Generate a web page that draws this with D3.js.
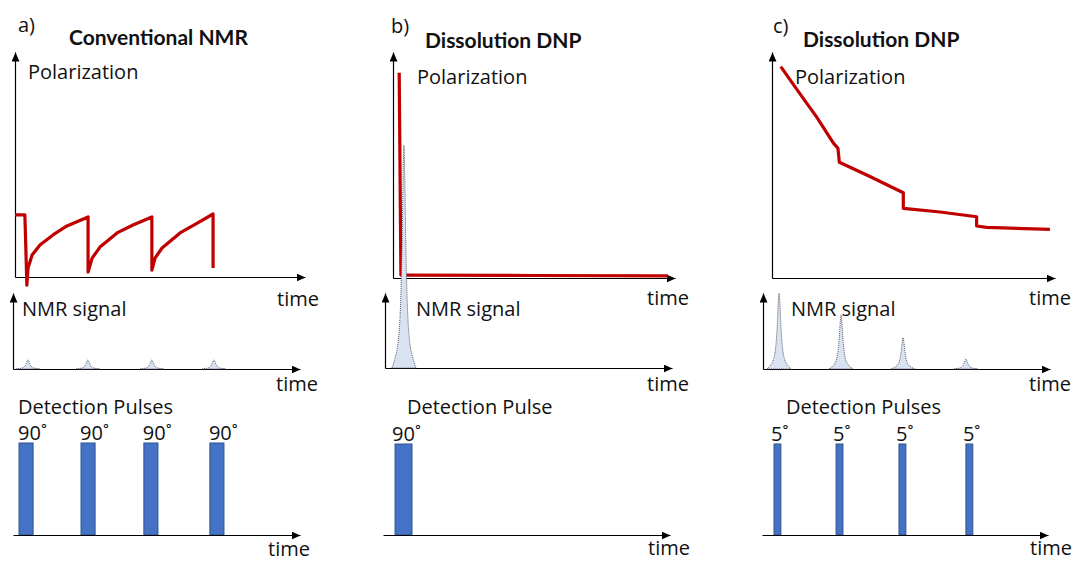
<!DOCTYPE html>
<html>
<head>
<meta charset="utf-8">
<script src="https://cdn.jsdelivr.net/npm/d3@7"></script>
<style>
body { margin: 0; background: #fff; }
svg text { font-family: "Open Sans", sans-serif; font-size: 20px; fill: #111; }
svg text.title { font-family: Lato, sans-serif; font-weight: bold; font-size: 21px; }
</style>
</head>
<body>
<svg id="chart"></svg>
<script>
var width = 1073,
    height = 562;

// time runs 0-10 along every axis, polarization / signal 0-1 of the axis height
// a) conventional NMR: polarization drops to ~0 at each 90 degree pulse and recovers
var polA = [[0, 0.276], [0.34, 0.276], [0.41, -0.036], [0.45, 0.04], [0.59, 0.098], [0.86, 0.142],
            [1.31, 0.187], [1.79, 0.227], [2.52, 0.267],
            [2.52, 0.022], [2.66, 0.084], [2.93, 0.133], [3.52, 0.196], [4.07, 0.231], [4.72, 0.267],
            [4.72, 0.031], [4.83, 0.084], [5.07, 0.129], [5.69, 0.196], [6.24, 0.236], [6.83, 0.28],
            [6.83, 0.04]];
// b) dissolution DNP, one 90 degree pulse
var polB = [[0.22, 0.908], [0.28, 0.013], [0.5, 0.013], [5, 0.011], [9.75, 0.009]];
// c) dissolution DNP, small 5 degree pulses
var polC = [[0.31, 0.935], [0.99, 0.815], [1.58, 0.712], [2.17, 0.597], [2.33, 0.574],
            [2.38, 0.512], [3.46, 0.449], [4.64, 0.377],
            [4.64, 0.308], [5.94, 0.292], [7.23, 0.271],
            [7.23, 0.23], [7.59, 0.224], [9.82, 0.215]];

var peakTimesA = [0.52, 2.61, 4.84, 7.0];
var peakHeightsA = [0.12, 0.12, 0.12, 0.12];
var peakTimesB = [0.66];
var peakHeightsB = [2.97];
var peakTimesC = [0.56, 2.72, 4.88, 7.07];
var peakHeightsC = [1.0, 0.71, 0.41, 0.13];

// shape of one NMR line: time offset from centre vs fraction of peak height
var peakDx  = [-0.42, -0.3, -0.2, -0.14, -0.1, -0.07, -0.05, -0.03, -0.015, 0, 0.015, 0.03, 0.05, 0.07, 0.1, 0.14, 0.2, 0.3, 0.42];
var peakRel = [0, 0.05, 0.12, 0.22, 0.36, 0.53, 0.69, 0.86, 0.96, 1, 0.96, 0.86, 0.69, 0.53, 0.36, 0.22, 0.12, 0.05, 0];

var pulseTimesA = [0.21, 2.37, 4.56, 6.86];
var pulseTimesB = [0.42];
var pulseTimesC = [0.42, 2.59, 4.79, 7.13];
var pulseLengths = [0.49, 0.59, 0.24];
var pulseAngles = ["90˚", "90˚", "5˚"];

var letters = ["a)", "b)", "c)"];
var titles = ["Conventional NMR", "Dissolution DNP", "Dissolution DNP"];
var pulseHeaders = ["Detection Pulses", "Detection Pulse", "Detection Pulses"];

var svg = d3.select("#chart")
    .attr("width", width)
    .attr("height", height);

svg.append("defs").append("marker")
    .attr("id", "arrow")
    .attr("markerUnits", "userSpaceOnUse")
    .attr("markerWidth", 10)
    .attr("markerHeight", 8)
    .attr("refX", 9)
    .attr("refY", 4)
    .attr("orient", "auto")
  .append("path")
    .attr("d", "M0,0L9,4L0,8Z")
    .attr("fill", "#000");

// where each panel sits on the page
var layout = [
    {letter: [18, 32], title: [69, 45],
     pol: {x: [15, 305], y: [277, 52], lab: [28, 79], time: [277, 306]},
     nmr: {x: [13, 300], y: [369, 293], lab: [22, 316], time: [276, 391]},
     pulse: {x: [13, 300], y: [535, 443], lab: [18, 414], time: [268, 556], off: -1}},
    {letter: [391, 33], title: [425, 48],
     pol: {x: [393, 675], y: [278, 52], lab: [417, 84], time: [647, 305]},
     nmr: {x: [385, 672], y: [368, 293], lab: [416, 316], time: [647, 391]},
     pulse: {x: [383, 670], y: [535, 444], lab: [407, 414], time: [648, 555], off: -3}},
    {letter: [773, 33], title: [803, 47],
     pol: {x: [772, 1055], y: [278, 52], lab: [795, 84], time: [1029, 305]},
     nmr: {x: [763, 1050], y: [369, 293], lab: [791, 316], time: [1029, 391]},
     pulse: {x: [762, 1048], y: [535, 444], lab: [786, 414], time: [1030, 555], off: -3}}
];

var polData = [polA, polB, polC];
var peakTimes = [peakTimesA, peakTimesB, peakTimesC];
var peakHeights = [peakHeightsA, peakHeightsB, peakHeightsC];
var pulseTimes = [pulseTimesA, pulseTimesB, pulseTimesC];

function arrowAxis(g, axis, tx, ty) {
    var a = g.append("g")
        .attr("transform", "translate(" + tx + "," + ty + ")")
        .call(axis);
    a.select(".domain")
        .attr("stroke", "#000")
        .attr("stroke-width", 1.2)
        .attr("marker-end", "url(#arrow)");
}

function label(g, txt, pos) {
    g.append("text").attr("x", pos[0]).attr("y", pos[1]).text(txt);
}

layout.forEach(function(L, i) {
    var g = svg.append("g");

    label(g, letters[i], L.letter);
    g.append("text")
        .attr("class", "title")
        .attr("x", L.title[0]).attr("y", L.title[1])
        .text(titles[i]);

    // polarization
    var x = d3.scaleLinear().domain([0, 10]).range(L.pol.x);
    var y = d3.scaleLinear().domain([0, 1]).range(L.pol.y);
    arrowAxis(g, d3.axisBottom(x).tickValues([]).tickSizeOuter(0), 0, L.pol.y[0]);
    arrowAxis(g, d3.axisLeft(y).tickValues([]).tickSizeOuter(0), L.pol.x[0], 0);
    label(g, "Polarization", L.pol.lab);
    label(g, "time", L.pol.time);

    g.append("path")
        .datum(polData[i])
        .attr("fill", "none")
        .attr("stroke", "#c00000")
        .attr("stroke-width", 3.2)
        .attr("stroke-linejoin", "round")
        .attr("d", d3.line()
            .x(function(d) { return x(d[0]); })
            .y(function(d) { return y(d[1]); }));

    // NMR signal
    var xn = d3.scaleLinear().domain([0, 10]).range(L.nmr.x);
    var yn = d3.scaleLinear().domain([0, 1]).range(L.nmr.y);
    arrowAxis(g, d3.axisBottom(xn).tickValues([]).tickSizeOuter(0), 0, L.nmr.y[0]);
    arrowAxis(g, d3.axisLeft(yn).tickValues([]).tickSizeOuter(0), L.nmr.x[0], 0);
    label(g, "NMR signal", L.nmr.lab);
    label(g, "time", L.nmr.time);

    peakTimes[i].forEach(function(t0, k) {
        var h = peakHeights[i][k];
        var pts = peakDx.map(function(dx, j) { return [t0 + dx, peakRel[j] * h]; });
        g.append("path")
            .datum(pts)
            .attr("fill", "#d9e2f1")
            .attr("stroke", "#4a4a5a")
            .attr("stroke-width", 0.9)
            .attr("stroke-dasharray", "1,1")
            .attr("d", d3.area()
                .curve(d3.curveMonotoneX)
                .x(function(d) { return xn(d[0]); })
                .y0(yn(0))
                .y1(function(d) { return yn(d[1]); }));
    });

    // detection pulses
    var xp = d3.scaleLinear().domain([0, 10]).range(L.pulse.x);
    var yp = d3.scaleLinear().domain([0, 1]).range(L.pulse.y);
    label(g, pulseHeaders[i], L.pulse.lab);
    label(g, "time", L.pulse.time);

    g.selectAll(".pulse")
        .data(pulseTimes[i])
        .enter().append("rect")
            .attr("class", "pulse")
            .attr("x", function(d) { return xp(d); })
            .attr("y", yp(1))
            .attr("width", function(d) { return xp(d + pulseLengths[i]) - xp(d); })
            .attr("height", yp(0) - yp(1))
            .attr("fill", "#4472c4")
            .attr("stroke", "#2f528f")
            .attr("stroke-width", 1);

    g.selectAll(".angle")
        .data(pulseTimes[i])
        .enter().append("text")
            .attr("class", "angle")
            .attr("x", function(d) { return xp(d) + L.pulse.off; })
            .attr("y", yp(1) - 3)
            .text(pulseAngles[i]);

    arrowAxis(g, d3.axisBottom(xp).tickValues([]).tickSizeOuter(0), 0, L.pulse.y[0]);
});
</script>
</body>
</html>
